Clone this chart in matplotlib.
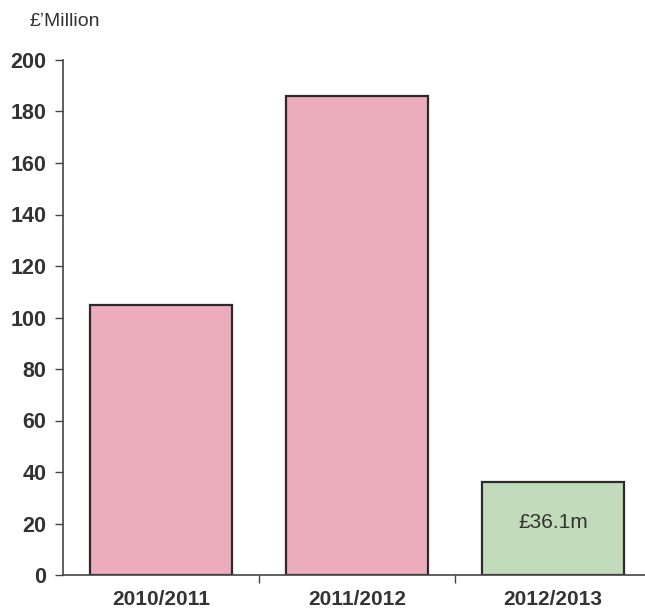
import matplotlib
matplotlib.use('Agg')
import matplotlib.pyplot as plt
import numpy as np

plt.rcParams['font.family'] = ['Liberation Sans', 'DejaVu Sans']

years = ['2010/2011', '2011/2012', '2012/2013']
spend = [105, 186, 36.1]
colours = ['#EBADBB', '#EBADBB', '#C2DCBB']
y_ticks = [0, 20, 40, 60, 80, 100, 120, 140, 160, 180, 200]

fig = plt.figure(figsize=(6.45, 6.15), dpi=100)
ax = fig.add_axes([63 / 645, 40 / 615, 588 / 645, 515 / 615])

x = np.arange(len(years))
ax.bar(x, spend, width=0.72, color=colours, edgecolor='#2b2b2b',
       linewidth=1.6, zorder=2)

# value label inside the latest year's bar
ax.text(x[2], spend[2] * 0.57, f'£{spend[2]:.1f}m', ha='center', va='center',
        fontsize=15, color='#333333')

ax.set_xlim(-0.5, 2.5)
ax.set_ylim(0, 200)
ax.set_yticks(y_ticks)
ax.tick_params(axis='y', direction='out', length=6, width=1, color='#444444',
               labelsize=15.5, pad=6)
for lbl in ax.get_yticklabels():
    lbl.set_fontweight('bold')
    lbl.set_color('#333333')

# category labels at centres, tick marks between categories
ax.set_xticks(x)
ax.set_xticklabels(years, fontsize=15, fontweight='bold', color='#333333')
ax.tick_params(axis='x', which='major', length=0, pad=11)
ax.set_xticks([0.5, 1.5], minor=True)
ax.tick_params(axis='x', which='minor', direction='out', length=6, width=1,
               color='#444444')

for side in ['top', 'right']:
    ax.spines[side].set_visible(False)
for side in ['left', 'bottom']:
    ax.spines[side].set_color('#444444')
    ax.spines[side].set_linewidth(1.2)

fig.text(30 / 645, 1 - 22 / 615, '£\u2019Million', fontsize=14,
         color='#333333', va='center', ha='left')

fig.savefig('out.png', dpi=100)
